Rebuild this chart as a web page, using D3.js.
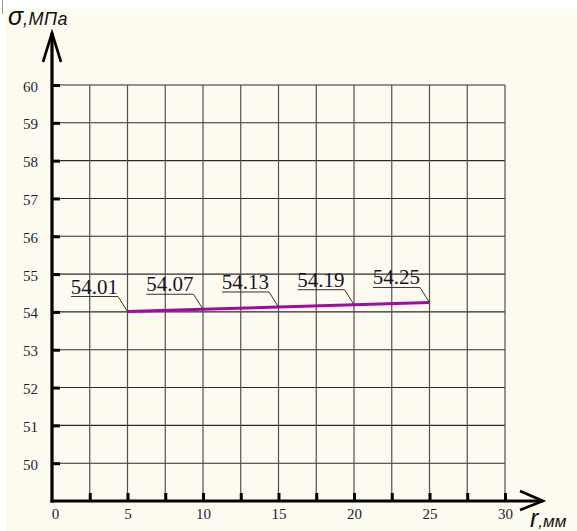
<!DOCTYPE html>
<html>
<head>
<meta charset="utf-8">
<script src="https://cdn.jsdelivr.net/npm/d3@7"></script>
<style>
  html, body { margin: 0; padding: 0; background: #ffffff; }
  svg { display: block; }
  .serif { font-family: "Liberation Serif", "DejaVu Serif", serif; }
  .sans { font-family: "Liberation Sans", Arial, sans-serif; }
</style>
</head>
<body>
<svg id="chart" width="577" height="531"></svg>
<script>
// Radius r (mm) and stress σ (MPa)
const radius = [5, 10, 15, 20, 25];
const stress = [54.01, 54.07, 54.13, 54.19, 54.25];
const valueLabels = ["54.01", "54.07", "54.13", "54.19", "54.25"];

// Axis ticks
const xTickMarks = [2.5, 5, 7.5, 10, 12.5, 15, 17.5, 20, 22.5, 25, 27.5, 30];
const xTickLabels = [0, 5, 10, 15, 20, 25, 30];
const yTickValues = [50, 51, 52, 53, 54, 55, 56, 57, 58, 59, 60];

const svg = d3.select("#chart");

// paper background
svg.append("rect").attr("x", 5).attr("y", 9).attr("width", 572).attr("height", 522).attr("fill", "#fdfbf0");
svg.append("line").attr("x1", 2.5).attr("x2", 2.5).attr("y1", 0).attr("y2", 14)
  .attr("stroke", "#999").attr("stroke-width", 1);

const x = d3.scaleLinear().domain([0, 30]).range([52, 505]);
const y = d3.scaleLinear().domain([49, 60]).range([501, 85]);

// grid
const grid = svg.append("g");
grid.selectAll("line.h").data(yTickValues).join("line")
  .attr("class", "h")
  .attr("x1", x(0)).attr("x2", x(30))
  .attr("y1", d => y(d)).attr("y2", d => y(d))
  .attr("stroke", "#2a2a2a").attr("stroke-width", 1.1);
grid.selectAll("line.v").data(xTickMarks).join("line")
  .attr("class", "v")
  .attr("x1", d => x(d)).attr("x2", d => x(d))
  .attr("y1", y(60)).attr("y2", y(49))
  .attr("stroke", "#505050").attr("stroke-width", 1.2);

// y axis ticks and labels
const yAxis = svg.append("g")
  .attr("transform", `translate(${x(0)},0)`)
  .call(d3.axisLeft(y).tickValues(yTickValues).tickSizeInner(-8).tickSizeOuter(0).tickPadding(14));
yAxis.attr("font-family", null).attr("font-size", null);
yAxis.select(".domain").remove();
yAxis.selectAll(".tick line").attr("stroke", "#000").attr("stroke-width", 3);
yAxis.selectAll(".tick text").attr("class", "serif").attr("fill", "#1c1c3a").style("font-size", "15px").attr("dy", "0.4em");

// x axis tick marks
const xAxis = svg.append("g")
  .attr("transform", `translate(0,${y(49)})`)
  .call(d3.axisBottom(x).tickValues(xTickMarks).tickSizeInner(-8).tickSizeOuter(0).tickFormat(""));
xAxis.select(".domain").remove();
xAxis.selectAll(".tick line").attr("stroke", "#000").attr("stroke-width", 3);

// x axis labels
const xLab = svg.append("g")
  .attr("transform", `translate(0,${y(49)})`)
  .call(d3.axisBottom(x).tickValues(xTickLabels).tickSize(0).tickPadding(7).tickFormat(d3.format("d")));
xLab.attr("font-family", null).attr("font-size", null);
xLab.select(".domain").remove();
xLab.selectAll(".tick text").attr("class", "serif").attr("fill", "#1c1c3a").style("font-size", "15px");
xLab.selectAll(".tick").filter(d => d === 0).select("text").attr("dx", 3);

// main axes with open arrowheads
const axes = svg.append("g").attr("stroke", "#000").attr("fill", "none").attr("stroke-linecap", "butt");
axes.append("line").attr("x1", x(0)).attr("x2", x(0)).attr("y1", y(49) + 1.5).attr("y2", 33).attr("stroke-width", 3.2);
axes.append("path").attr("d", `M${x(0) - 9},62 L${x(0)},33 L${x(0) + 9},62`).attr("stroke-width", 2.6);
axes.append("line").attr("x1", x(0) - 1.5).attr("x2", 543).attr("y1", y(49)).attr("y2", y(49)).attr("stroke-width", 3.2);
axes.append("path").attr("d", `M520,491 L543,${y(49)} L520,510`).attr("stroke-width", 2.6);

// axis titles
const yTitle = svg.append("text").attr("class", "sans").attr("x", 8).attr("y", 25)
  .attr("font-style", "italic").attr("fill", "#111");
yTitle.append("tspan").style("font-size", "25px").text("σ");
yTitle.append("tspan").style("font-size", "18px").attr("letter-spacing", 0.5).text(",МПа");
const xTitle = svg.append("text").attr("class", "sans").attr("x", 530).attr("y", 527)
  .attr("font-style", "italic").attr("fill", "#111");
xTitle.append("tspan").style("font-size", "25px").text("r");
xTitle.append("tspan").style("font-size", "17px").text(",мм");

// data line
const pts = radius.map((r, i) => ({ r, s: stress[i], label: valueLabels[i] }));
svg.append("path").datum(pts)
  .attr("d", d3.line().x(d => x(d.r)).y(d => y(d.s)))
  .attr("fill", "none").attr("stroke", "#a20aa8").attr("stroke-width", 3);

// value callouts: underlined text with leader line
const call = svg.append("g").selectAll("g").data(pts).join("g");
const gap = 9.5, rise = 15, textW = 47;
call.append("path")
  .attr("d", d => `M${x(d.r) - gap - textW},${y(d.s) - rise} L${x(d.r) - gap},${y(d.s) - rise} L${x(d.r)},${y(d.s)}`)
  .attr("fill", "none").attr("stroke", "#333").attr("stroke-width", 1);
call.append("text")
  .attr("class", "serif")
  .attr("x", d => x(d.r) - gap)
  .attr("y", d => y(d.s) - rise - 3)
  .attr("text-anchor", "end")
  .style("font-size", "21px").attr("fill", "#14142e")
  .text(d => d.label);
</script>
</body>
</html>
